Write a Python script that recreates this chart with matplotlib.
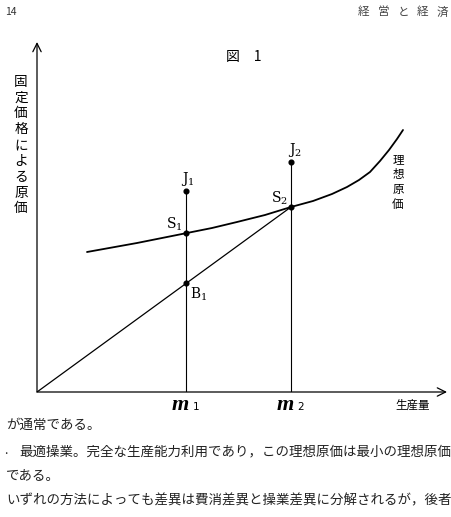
"""
図1：固定価格による原価と生産量（理想原価曲線）
"""

import matplotlib
import matplotlib.pyplot as plt

matplotlib.rcParams["font.family"] = ["Noto Sans CJK JP", "DejaVu Sans"]
matplotlib.rcParams["mathtext.fontset"] = "dejavuserif"

# ─── データ（原点からの生産量・原価） ─────────────────────────────────────
OUTPUT_LEVELS = [149, 254]          # m1, m2
OUTPUT_NAMES  = ["1", "2"]
J_COSTS       = [201, 230]          # J1, J2
S_COSTS       = [159, 185]          # S1, S2
B1_COST       = 109
# 理想原価曲線（読み取り点）
CURVE_X = [50, 75, 100, 125, 150, 175, 200, 228, 254, 276, 295, 310, 322, 333, 343, 352, 360, 366]
CURVE_Y = [140, 144.5, 149, 154, 159, 164, 170, 177, 185, 191, 198, 205, 212, 220, 231, 242, 253, 262]
AXIS_X_MAX, AXIS_Y_MAX = 410, 350
OUTPUT_PATH = "out.png"
# ────────────────────────────────────────────────────────────────────────────

W, H = 451, 517
fig = plt.figure(figsize=(W / 100, H / 100), dpi=100)
fig.patch.set_facecolor("white")


def px(x, y):
    return x / W, 1 - y / H


ax = fig.add_axes([37 / W, 125 / H, 410 / W, 350 / H])
ax.set_xlim(0, AXIS_X_MAX)
ax.set_ylim(0, AXIS_Y_MAX)
ax.axis("off")

# 座標軸（矢印）
arrow = dict(arrowstyle="->,head_length=0.6,head_width=0.3", lw=0.9, color="black",
             shrinkA=0, shrinkB=0)
ax.annotate("", xy=(0, AXIS_Y_MAX), xytext=(0, 0), arrowprops=arrow, annotation_clip=False)
ax.annotate("", xy=(AXIS_X_MAX, 0), xytext=(0, 0), arrowprops=arrow, annotation_clip=False)

# 理想原価曲線
ax.plot(CURVE_X, CURVE_Y, color="black", lw=1.3, solid_capstyle="round")

# 原点から S2 への直線
ax.plot([0, OUTPUT_LEVELS[1]], [0, S_COSTS[1]], color="black", lw=0.9)

# m1, m2 の垂線
for m, j in zip(OUTPUT_LEVELS, J_COSTS):
    ax.plot([m, m], [0, j], color="black", lw=0.8)

# 点
pts_x = OUTPUT_LEVELS + OUTPUT_LEVELS + [OUTPUT_LEVELS[0]]
pts_y = J_COSTS + S_COSTS + [B1_COST]
ax.plot(pts_x, pts_y, "o", color="black", ms=3.4, ls="none")

lab = dict(textcoords="offset pixels", ha="center", va="center", fontsize=10,
           family="DejaVu Serif")
ax.annotate(r"$\mathrm{J}_1$", (OUTPUT_LEVELS[0], J_COSTS[0]), xytext=(2, 12), **lab)
ax.annotate(r"$\mathrm{J}_2$", (OUTPUT_LEVELS[1], J_COSTS[1]), xytext=(4, 12), **lab)
ax.annotate(r"$\mathrm{S}_1$", (OUTPUT_LEVELS[0], S_COSTS[0]), xytext=(-12, 9), **lab)
ax.annotate(r"$\mathrm{S}_2$", (OUTPUT_LEVELS[1], S_COSTS[1]), xytext=(-12, 9), **lab)
ax.annotate(r"$\mathrm{B}_1$", (OUTPUT_LEVELS[0], B1_COST), xytext=(13, -11), **lab)

# m1, m2 ラベル
for m, name in zip(OUTPUT_LEVELS, OUTPUT_NAMES):
    ax.annotate("m", (m, 0), xytext=(-6, -13), textcoords="offset pixels",
                ha="center", va="center", fontsize=16, fontweight="bold",
                fontstyle="italic", family="Liberation Serif", annotation_clip=False)
    ax.annotate(name, (m, 0), xytext=(10, -15), textcoords="offset pixels",
                ha="center", va="center", fontsize=7.5, family="DejaVu Sans",
                annotation_clip=False)

# 軸ラベル・図中テキスト
fig.text(*px(413, 405), "生産量", ha="center", va="center", fontsize=8.3)
fig.text(*px(21, 145), "\n".join("固定価格による原価"), ha="center", va="center",
         fontsize=9.8, linespacing=1.17)
fig.text(*px(398, 182), "\n".join("理想原価"), ha="center", va="center",
         fontsize=8.3, linespacing=1.17)
fig.text(*px(244, 57), "図　1", ha="center", va="center", fontsize=10)

# ページ見出し
fig.text(*px(5, 12), "14", ha="left", va="center", fontsize=7.5, color="#333333")
for i, ch in enumerate("経営と経済"):
    fig.text(*px(364 + i * 19.5, 12), ch, ha="center", va="center", fontsize=8.3,
             color="#444444")

# 本文
body = [
    (6, 425, "が通常である。"),
    (19, 451, "最適操業。完全な生産能力利用であり，この理想原価は最小の理想原価"),
    (6, 476, "である。"),
    (6, 500, "いずれの方法によっても差異は費消差異と操業差異に分解されるが，後者"),
]
for x, y, s in body:
    fig.text(*px(x, y), s, ha="left", va="center", fontsize=9.7, color="#222222")
fig.text(*px(4, 451), ".", ha="left", va="center", fontsize=9, color="#222222")

plt.savefig(OUTPUT_PATH, dpi=100)
plt.close()
